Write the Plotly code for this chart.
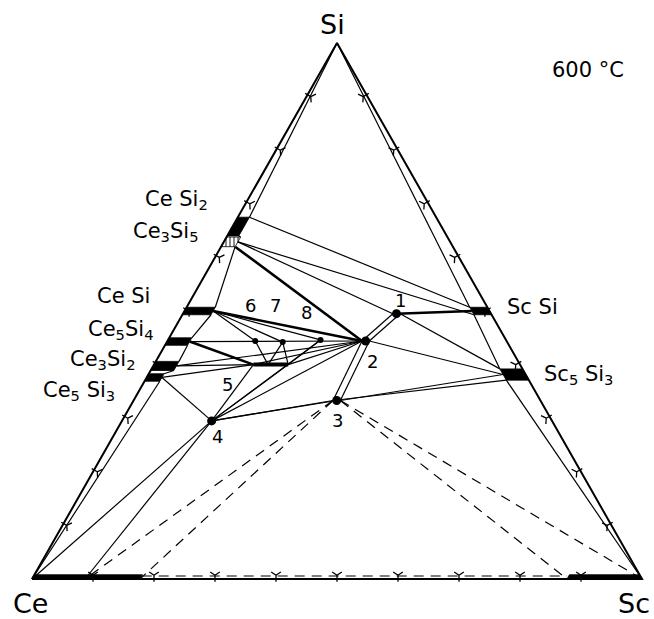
import plotly.graph_objects as go

# Isothermal section Ce–Sc–Si at 600 °C. Compositions in at.% (Si, Sc); Ce is the balance.

# Binary Ce–Si phases: Si range on the edge and maximum Sc solubility
ce_si_phase = ["CeSi2", "Ce3Si5", "CeSi", "Ce5Si4", "Ce3Si2", "Ce5Si3"]
ce_si_si_lo = [64.0, 62.0, 49.3, 43.6, 38.9, 36.9]
ce_si_si_hi = [67.5, 63.8, 50.7, 45.0, 40.6, 38.3]
ce_si_sc_max = [1.9, 2.3, 4.7, 3.7, 3.8, 2.5]

# Binary Sc–Si phases: Si range on the edge and maximum Ce solubility
sc_si_phase = ["ScSi", "Sc5Si3"]
sc_si_si_lo = [49.3, 37.1]
sc_si_si_hi = [50.7, 39.2]
sc_si_ce_max = [2.9, 3.7]

# Terminal solid solutions on the Ce–Sc edge
ce_ss_sc_max = 17.7
ce_ss_tie_sc = 8.7
sc_ss_ce_max = 12.3
ss_layer_si = 0.8

# Ternary compounds
tern_id = ["1", "2", "3", "4", "6", "7", "8"]
tern_si = [49.5, 44.4, 33.3, 29.5, 44.4, 44.2, 44.6]
tern_sc = [35.0, 32.5, 33.3, 14.7, 14.4, 19.0, 25.0]
band_half_sc = 0.6

# Compound 5: homogeneity range at constant Si
ph5_si = 40.0
ph5_sc = [16.3, 18.7, 22.0]

# Tie lines between the nodes defined below
tie_thin = [
    ("Si", "CeSi2.hi"), ("CeSi2.lo", "Ce3Si5.hi"), ("Ce3Si5.lo", "CeSi.hi"),
    ("CeSi.lo", "Ce5Si4.hi"), ("Ce5Si4.lo", "Ce3Si2.hi"), ("Ce3Si2.lo", "Ce5Si3.hi"),
    ("Ce5Si3.lo", "Ce"),
    ("Si", "ScSi.hi"), ("ScSi.lo", "Sc5Si3.hi"), ("Sc5Si3.lo", "Sc"),
    ("CeSi2.hi", "ScSi.hi"), ("Ce3Si5.mid", "ScSi.lo"), ("Ce3Si5.mid", "1L"),
    ("1R", "Sc5Si3.hi"), ("2R", "Sc5Si3.mid"),
    ("3L", "Sc5Si3.lo"), ("3R", "Sc5Si3.mid"),
    ("3L", "2L"), ("2L", "1L"), ("3R", "2R"), ("2R", "1R"),
    ("CeSi.mid", "6"), ("CeSi.mid", "7"), ("CeSi.mid", "8"),
    ("Ce5Si4.mid", "2L"),
    ("6", "5M"), ("7", "5M"), ("7", "5R"), ("8", "5R"),
    ("5L", "2L"), ("5R", "2L"),
    ("Ce3Si2.mid", "5L"), ("Ce3Si2.mid", "2L"),
    ("Ce5Si3.mid", "5L"), ("Ce5Si3.mid", "4"),
    ("Ce", "4"), ("CeSS.t", "4"),
    ("4", "5L"), ("4", "5R"), ("4", "8"), ("4", "2L"), ("4", "3L"), ("4", "3"),
]
tie_heavy = [("1", "ScSi.mid"), ("CeSi.mid", "2L"), ("Ce5Si4.mid", "5L"), ("Ce3Si5.lo", "2L")]
tie_dashed = [("3L", "CeSS"), ("3L", "CeSS.t"), ("3R", "Sc"), ("3R", "ScSS"), ("CeSS.top", "ScSS.top")]

tick_pct = [10, 20, 30, 40, 50, 60, 70, 80, 90]
TICK_INSET = 0.7


def xy(si, sc):
    return (sc + si / 2.0) / 100.0, si / 100.0


nodes = {"Ce": (0.0, 0.0), "Sc": (0.0, 100.0), "Si": (100.0, 0.0)}
for n, lo, hi, m in zip(ce_si_phase, ce_si_si_lo, ce_si_si_hi, ce_si_sc_max):
    nodes[n + ".lo"] = (lo, m)
    nodes[n + ".hi"] = (hi, m)
    nodes[n + ".mid"] = ((lo + hi) / 2, m)
for n, lo, hi, m in zip(sc_si_phase, sc_si_si_lo, sc_si_si_hi, sc_si_ce_max):
    nodes[n + ".lo"] = (lo, 100 - lo - m)
    nodes[n + ".hi"] = (hi, 100 - hi - m)
    mid = (lo + hi) / 2
    nodes[n + ".mid"] = (mid, 100 - mid - m)
for n, si, sc in zip(tern_id, tern_si, tern_sc):
    nodes[n] = (si, sc)
    nodes[n + "L"] = (si, sc - band_half_sc)
    nodes[n + "R"] = (si, sc + band_half_sc)
for key, sc in zip(["5L", "5M", "5R"], ph5_sc):
    nodes[key] = (ph5_si, sc)
nodes["CeSS"] = (0.0, ce_ss_sc_max)
nodes["CeSS.t"] = (0.0, ce_ss_tie_sc)
nodes["ScSS"] = (0.0, 100 - sc_ss_ce_max)
nodes["CeSS.top"] = (ss_layer_si * 0.7, ce_ss_sc_max)
nodes["ScSS.top"] = (ss_layer_si * 0.7, 100 - sc_ss_ce_max - ss_layer_si * 0.35)


def segs(pairs):
    xs, ys = [], []
    for a, b in pairs:
        for k in (a, b):
            x, y = xy(*nodes[k])
            xs.append(x)
            ys.append(y)
        xs.append(None)
        ys.append(None)
    return xs, ys


fig = go.Figure()

# edge ticks every 10 at.%
tx, ty, ta = [], [], []
for p in tick_pct:
    x, y = xy(TICK_INSET, p - TICK_INSET / 2)      # Ce–Sc edge
    tx.append(x); ty.append(y); ta.append(0)
    x, y = xy(p, TICK_INSET)                       # Ce–Si edge
    tx.append(x); ty.append(y); ta.append(120)
    x, y = xy(p, 100 - p - TICK_INSET)             # Sc–Si edge
    tx.append(x); ty.append(y); ta.append(-120)
fig.add_trace(go.Scatter(x=tx, y=ty, mode="markers",
                         marker=dict(symbol="y-down", size=8, angle=ta,
                                     line=dict(color="black", width=1.3)),
                         hoverinfo="skip"))

# tie lines
for pairs, w, dash in [(tie_thin, 1.2, "solid"), (tie_heavy, 2.6, "solid"),
                       (tie_dashed, 1.2, "10px,7px")]:
    xs, ys = segs(pairs)
    fig.add_trace(go.Scatter(x=xs, y=ys, mode="lines",
                             line=dict(color="black", width=w, dash=dash),
                             hoverinfo="skip"))


# homogeneity ranges of the binary phases
def add_poly(pts, pattern=None):
    px = [xy(*p)[0] for p in pts] + [xy(*pts[0])[0]]
    py = [xy(*p)[1] for p in pts] + [xy(*pts[0])[1]]
    kw = dict(fill="toself", mode="lines", line=dict(color="black", width=0.8), hoverinfo="skip")
    if pattern:
        kw["fillpattern"] = dict(shape=pattern, fgcolor="black", bgcolor="white", size=4, solidity=0.45)
        kw["fillcolor"] = "white"
    else:
        kw["fillcolor"] = "black"
    fig.add_trace(go.Scatter(x=px, y=py, **kw))


for n, lo, hi, m in zip(ce_si_phase, ce_si_si_lo, ce_si_si_hi, ce_si_sc_max):
    add_poly([(lo, 0), (hi, 0), (hi, m), (lo, m)], pattern="|" if n == "Ce3Si5" else None)
for n, lo, hi, m in zip(sc_si_phase, sc_si_si_lo, sc_si_si_hi, sc_si_ce_max):
    add_poly([(lo, 100 - lo), (hi, 100 - hi), (hi, 100 - hi - m), (lo, 100 - lo - m)])
add_poly([(0, 0), (0, ce_ss_sc_max), (ss_layer_si, ce_ss_sc_max), (ss_layer_si, 0)])
add_poly([(0, 100 - sc_ss_ce_max), (0, 100), (ss_layer_si, 100 - ss_layer_si),
          (ss_layer_si, 100 - sc_ss_ce_max)])

# compound 5 range
xs, ys = segs([("5L", "5R")])
fig.add_trace(go.Scatter(x=xs, y=ys, mode="lines", line=dict(color="black", width=4), hoverinfo="skip"))

# ternary compounds
big = [n for n in tern_id if n in ("1", "2", "3", "4")]
small = [n for n in tern_id if n not in big]
for ids, size in [(big, 9), (small, 6)]:
    fig.add_trace(go.Scatter(x=[xy(*nodes[n])[0] for n in ids], y=[xy(*nodes[n])[1] for n in ids],
                             mode="markers", marker=dict(color="black", size=size), hoverinfo="skip"))

# outer triangle
cx = [xy(*nodes[k])[0] for k in ("Ce", "Sc", "Si", "Ce")]
cy = [xy(*nodes[k])[1] for k in ("Ce", "Sc", "Si", "Ce")]
fig.add_trace(go.Scatter(x=cx, y=cy, mode="lines", line=dict(color="black", width=2), hoverinfo="skip"))

FONT = "DejaVu Sans"
ann = []


def label(x, y, text, size, xanchor="center"):
    ann.append(dict(x=x, y=y, text=text, showarrow=False, xanchor=xanchor, yanchor="middle",
                    font=dict(family=FONT, size=size, color="black")))


label(0.4934, 1.035, "Si", 27)
label(-0.003, -0.045, "Ce", 27)
label(0.987, -0.045, "Sc", 27)
label(0.912, 0.950, "600 °C", 21)

label(0.2918, 0.7071, "Ce Si<sub>2</sub>", 21, "right")
label(0.2754, 0.6474, "Ce<sub>3</sub>Si<sub>5</sub>", 21, "right")
label(0.1967, 0.5280, "Ce Si", 21, "right")
label(0.2016, 0.4646, "Ce<sub>5</sub>Si<sub>4</sub>", 21, "right")
label(0.1721, 0.4086, "Ce<sub>3</sub>Si<sub>2</sub>", 21, "right")
label(0.1393, 0.3507, "Ce<sub>5</sub> Si<sub>3</sub>", 21, "right")
label(0.7754, 0.5075, "Sc Si", 21, "left")
label(0.8361, 0.3806, "Sc<sub>5</sub> Si<sub>3</sub>", 21, "left")

for t, x, y in [("1", 0.6049, 0.5205), ("2", 0.5574, 0.4049), ("3", 0.5000, 0.2948),
                ("4", 0.3033, 0.2668), ("5", 0.3213, 0.3638), ("6", 0.3574, 0.5112),
                ("7", 0.3984, 0.5112), ("8", 0.4508, 0.4981)]:
    label(x, y, t, 18)

fig.update_layout(
    width=654, height=619,
    margin=dict(l=0, r=0, t=0, b=0),
    paper_bgcolor="white", plot_bgcolor="white",
    showlegend=False,
    xaxis=dict(visible=False, range=[-32 / 610, 622 / 610], fixedrange=True),
    yaxis=dict(visible=False, range=[-40 / 536, 579 / 536], fixedrange=True),
    annotations=ann,
)

fig.write_html("out.html")
